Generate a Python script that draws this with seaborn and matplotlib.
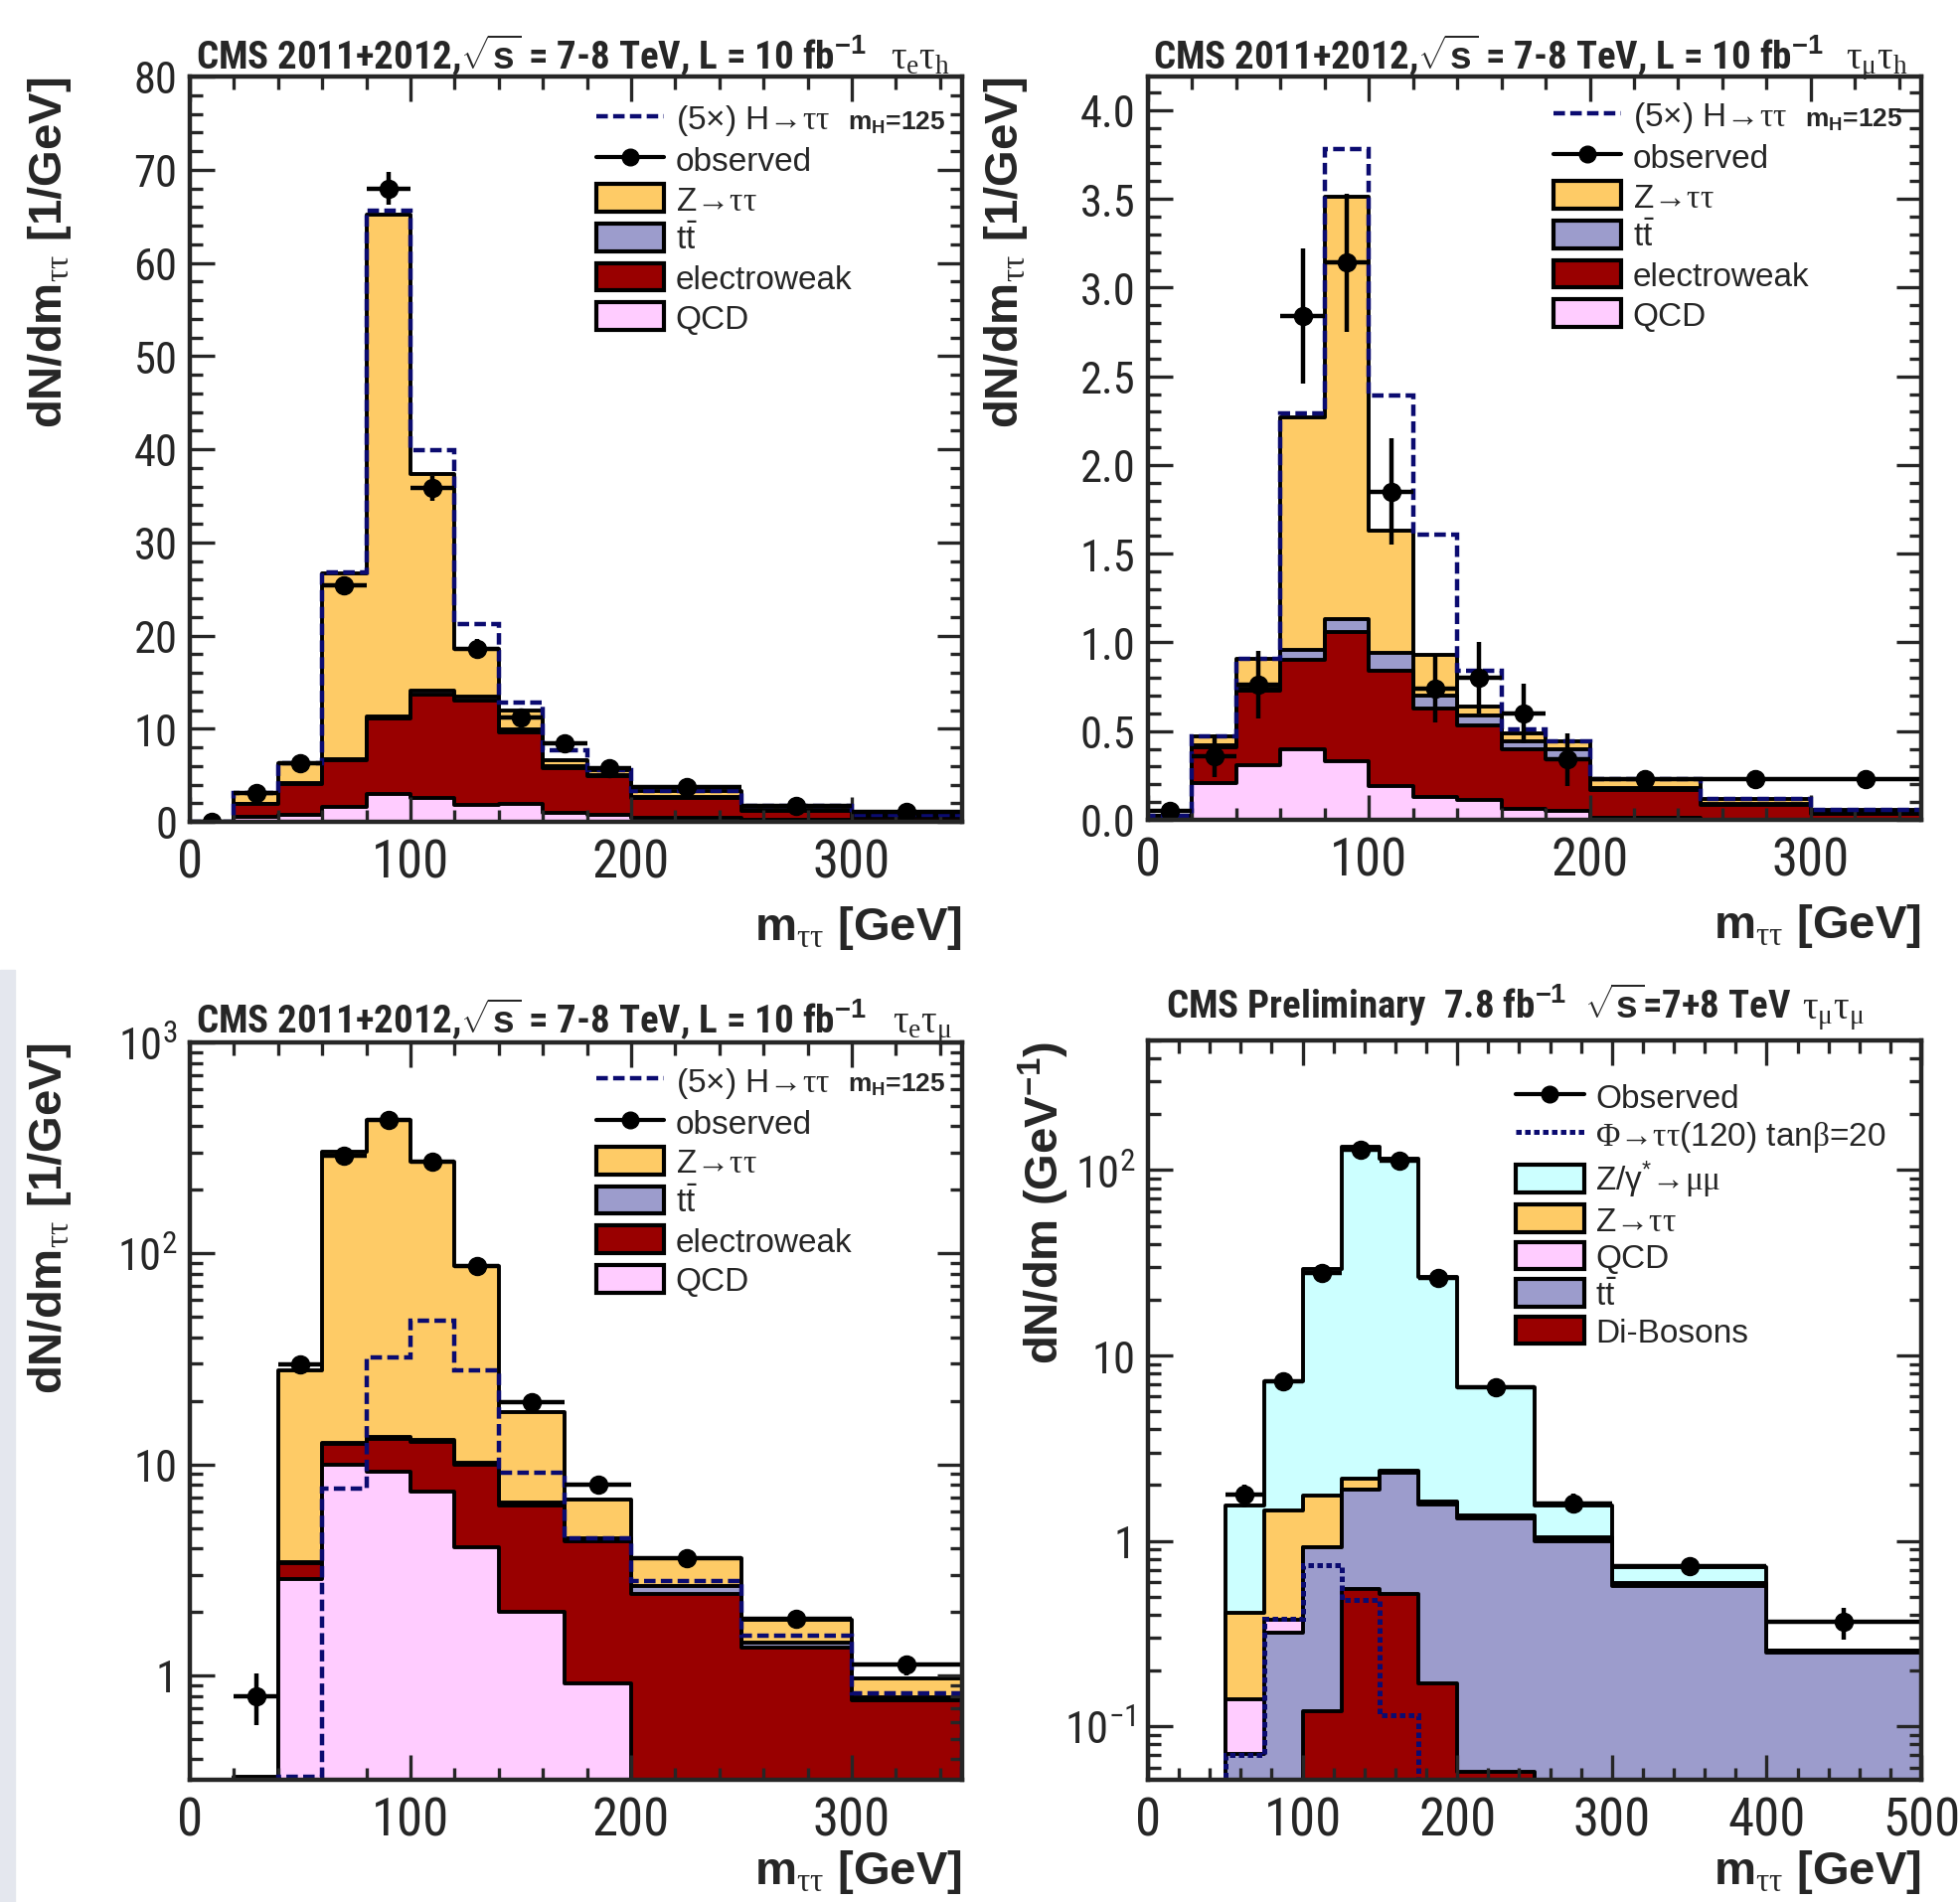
import numpy as np
import pandas as pd
import matplotlib
matplotlib.use("Agg")
import matplotlib.pyplot as plt
import seaborn as sns
from matplotlib import font_manager
from matplotlib.patches import Patch, Rectangle
from matplotlib.lines import Line2D
from matplotlib.ticker import (MultipleLocator, FixedLocator, FixedFormatter,
                               FormatStrFormatter, LogLocator, NullFormatter)

# ---------------- data: tau_e tau_h ----------------
edges_eh = [0, 20, 40, 60, 80, 100, 120, 140, 160, 180, 200, 250, 300, 350]
qcd_eh = [0, 0.5, 0.7, 1.6, 3.0, 2.6, 1.8, 1.9, 1.0, 0.8, 0.4, 0.2, 0.1]
ewk_eh = [0, 1.4, 3.4, 5.0, 8.1, 11.1, 11.2, 7.7, 4.75, 4.1, 2.2, 1.0, 0.45]
tt_eh = [0, 0.05, 0.1, 0.15, 0.25, 0.4, 0.4, 0.3, 0.2, 0.15, 0.1, 0.05, 0.03]
ztt_eh = [0, 1.15, 2.1, 19.95, 53.85, 23.2, 5.2, 2.1, 0.65, 0.45, 0.6, 0.45, 0.22]
higgs_eh = [0, 3.1, 6.3, 26.8, 65.6, 39.9, 21.2, 12.8, 7.7, 5.5, 3.3, 1.7, 0.8]
obs_x_eh = [10, 30, 50, 70, 90, 110, 130, 150, 170, 190, 225, 275, 325]
obs_xe_eh = [10, 10, 10, 10, 10, 10, 10, 10, 10, 10, 25, 25, 25]
obs_y_eh = [0, 3.1, 6.3, 25.4, 68.0, 35.8, 18.6, 11.2, 8.4, 5.75, 3.7, 1.75, 1.1]
obs_err_eh = [0.2, 0.4, 0.5, 1.0, 1.8, 1.3, 1.0, 0.7, 0.6, 0.5, 0.3, 0.2, 0.15]

# ---------------- data: tau_mu tau_h ----------------
edges_mh = [0, 20, 40, 60, 80, 100, 120, 140, 160, 180, 200, 250, 300, 350]
qcd_mh = [0.02, 0.21, 0.31, 0.40, 0.33, 0.19, 0.13, 0.11, 0.06, 0.05, 0.01, 0.0, 0.0]
ewk_mh = [0, 0.20, 0.42, 0.50, 0.73, 0.65, 0.50, 0.42, 0.34, 0.29, 0.16, 0.085, 0.035]
tt_mh = [0, 0.01, 0.01, 0.06, 0.07, 0.10, 0.07, 0.06, 0.04, 0.06, 0.01, 0.005, 0.005]
ztt_mh = [0, 0.05, 0.17, 1.31, 2.38, 0.69, 0.23, 0.05, 0.05, 0.04, 0.05, 0.025, 0.015]
higgs_mh = [0.02, 0.47, 0.91, 2.29, 3.78, 2.39, 1.61, 0.84, 0.51, 0.44, 0.23, 0.115, 0.055]
obs_x_mh = [10, 30, 50, 70, 90, 110, 130, 150, 170, 190, 225, 275, 325]
obs_xe_mh = [10, 10, 10, 10, 10, 10, 10, 10, 10, 10, 25, 25, 25]
obs_y_mh = [0.05, 0.36, 0.76, 2.84, 3.14, 1.85, 0.74, 0.80, 0.60, 0.34, 0.23, 0.23, 0.23]
obs_err_mh = [0.03, 0.12, 0.19, 0.38, 0.39, 0.30, 0.19, 0.20, 0.17, 0.15, 0.05, 0.05, 0.05]

# ---------------- data: tau_e tau_mu ----------------
edges_em = [0, 20, 40, 60, 80, 100, 120, 140, 170, 200, 250, 300, 350]
qcd_em = [0, 0, 2.87, 10.0, 9.2, 7.4, 4.07, 2.0, 0.92, 0, 0, 0]
ewk_em = [0, 0, 0.52, 2.5, 4.0, 5.4, 5.88, 4.4, 3.38, 2.43, 1.36, 0.76]
tt_em = [0, 0, 0.05, 0.2, 0.3, 0.3, 0.25, 0.2, 0.15, 0.21, 0.07, 0.03]
ztt_em = [0, 0.33, 24.46, 290.3, 414.5, 257.9, 76.8, 11.1, 2.35, 0.94, 0.41, 0.18]
higgs_em = [0, 0, 0.33, 7.7, 32, 47.8, 28, 9.1, 4.45, 2.8, 1.54, 0.82]
obs_x_em = [30, 50, 70, 90, 110, 130, 155, 185, 225, 275, 325]
obs_xe_em = [10, 10, 10, 10, 10, 10, 15, 15, 25, 25, 25]
obs_y_em = [0.8, 29.7, 290, 428, 271, 87, 19.7, 8.0, 3.6, 1.86, 1.12]
obs_err_em = [0.22, 1.2, 4, 5, 4, 2, 0.8, 0.5, 0.25, 0.15, 0.12]

# ---------------- data: tau_mu tau_mu ----------------
edges_mm = [50, 75, 100, 125, 150, 175, 200, 250, 300, 400, 500]
dib_mm = [0, 0, 0.12, 0.55, 0.52, 0.171, 0.057, 0, 0, 0]
tt_mm = [0.071, 0.32, 0.80, 1.33, 1.82, 1.40, 1.273, 1.0, 0.57, 0.25]
qcd_mm = [0.069, 0.056, 0.01, 0.02, 0.02, 0.03, 0.02, 0.02, 0.01, 0.002]
ztt_mm = [0.27, 1.084, 0.83, 0.26, 0.04, 0.02, 0.02, 0.02, 0.01, 0.003]
zmm_mm = [1.14, 5.84, 27.44, 130.84, 112.6, 24.98, 5.33, 0.51, 0.13, 0.002]
phi_mm = [0.07, 0.38, 0.74, 0.48, 0.115, 0, 0, 0, 0, 0]
obs_x_mm = [62.5, 87.5, 112.5, 137.5, 162.5, 187.5, 225, 275, 350, 450]
obs_xe_mm = [12.5, 12.5, 12.5, 12.5, 12.5, 12.5, 25, 25, 50, 50]
obs_y_mm = [1.77, 7.3, 27.9, 129, 112, 26.3, 6.7, 1.6, 0.73, 0.365]
obs_err_mm = [0.25, 0.4, 1.0, 4, 4, 1.0, 0.5, 0.2, 0.06, 0.07]

# ---------------- style ----------------
C_ZTT, C_TT, C_EWK, C_QCD, C_ZMM = '#FECB66', '#9C9CCC', '#990000', '#FFCCFF', '#CCFFFF'
NAVY = '#0b0b70'

# look for a condensed sans font (Arial Narrow look-alike) if one is installed
_fonts = font_manager.fontManager.ttflist
_names = {f.name for f in _fonts}
NARROW = None
for cand in ['Liberation Sans Narrow', 'Arial Narrow', 'Roboto Condensed',
             'DejaVu Sans Condensed', 'Open Sans Condensed', 'Noto Sans Condensed']:
    if cand in _names:
        NARROW = cand
        break
if NARROW is None:
    for f in _fonts:
        if ('Narrow' in f.name or 'Condensed' in f.name) and 'CJK' not in f.name:
            NARROW = f.name
            break
IS_NARROW = NARROW is not None
BASE = NARROW if IS_NARROW else 'Liberation Sans'

sns.set_style("ticks")
plt.rcParams['font.family'] = [BASE, 'Liberation Sans', 'DejaVu Sans']
plt.rcParams['mathtext.fontset'] = 'custom'
plt.rcParams['mathtext.rm'] = 'Liberation Sans'
plt.rcParams['mathtext.it'] = 'Liberation Sans:italic'
plt.rcParams['mathtext.bf'] = 'Liberation Sans:bold'
plt.rcParams['mathtext.sf'] = 'Liberation Serif'

XT_FS = 38 if IS_NARROW else 32
YT_FS = 32 if IS_NARROW else 27
TITLE_FS = 28 if IS_NARROW else 24
TITLE4_FS = 28 if IS_NARROW else 23.5
LAB_FS = 34
LEG_FS = 24
LEG_FAMILY = ['Liberation Sans', 'DejaVu Sans']
ARROW = '→'

fig = plt.figure(figsize=(19.72, 19.15), dpi=100)
fig.add_artist(Rectangle((0, 0), 15 / 1972, 0.49, transform=fig.transFigure,
                         color='#E4E7EE', zorder=-10))

ax1 = fig.add_axes([191 / 1972, 1 - 828 / 1915, 777 / 1972, 750 / 1915])
ax2 = fig.add_axes([1155 / 1972, 1 - 826 / 1915, 778 / 1972, 748 / 1915])
ax3 = fig.add_axes([191 / 1972, 1 - 1792 / 1915, 777 / 1972, 742 / 1915])
ax4 = fig.add_axes([1155 / 1972, 1 - 1792 / 1915, 778 / 1972, 744 / 1915])


def draw_stack(ax, edges, comps, colors):
    e = np.asarray(edges, float)
    centers = 0.5 * (e[:-1] + e[1:])
    cums = np.cumsum(np.array(comps, float), axis=0)
    for cum, col in reversed(list(zip(cums, colors))):
        df = pd.DataFrame({'m': centers, 'w': cum})
        sns.histplot(data=df, x='m', weights='w', bins=list(edges), element="step",
                     fill=True, color=col, alpha=1, edgecolor="black", linewidth=2.8, ax=ax)


def draw_obs(ax, x, xe, y, ye):
    ax.errorbar(x, y, xerr=xe, yerr=ye, fmt='o', color='black', ms=13,
                elinewidth=3.2, capsize=0, zorder=6)


def style_axis(ax):
    for s in ax.spines.values():
        s.set_linewidth(3.2)
        s.set_visible(True)
        s.set_zorder(10)
    ax.tick_params(which='both', direction='in', top=True, right=True, width=2.4)
    ax.tick_params(which='major', length=18)
    ax.tick_params(which='minor', length=9)
    ax.tick_params(axis='x', which='major', labelsize=XT_FS, pad=11)
    ax.tick_params(axis='y', which='major', labelsize=YT_FS, pad=9)
    ax.set_xlabel('')
    ax.set_ylabel('')
    ax.set_axisbelow(False)


def add_labels(ax, ylab, ylx, title, title_x, title_y, decay, decay_x, xly=-0.142,
               tfs=None):
    ax.text(ylx, 1.0, ylab, transform=ax.transAxes, rotation=90, ha='center', va='top',
            fontsize=LAB_FS, fontweight='bold', family='Liberation Sans')
    ax.text(1.0, xly, r'm$_{\mathsf{\tau\tau}}$ [GeV]', transform=ax.transAxes,
            ha='right', va='center', fontsize=LAB_FS, fontweight='bold',
            family='Liberation Sans')
    ax.text(title_x, title_y, title, transform=ax.transAxes, ha='left', va='baseline',
            fontsize=tfs or TITLE_FS, fontweight='bold')
    ax.text(decay_x, title_y, decay, transform=ax.transAxes, ha='right', va='baseline',
            fontsize=28)


def add_legend(ax, handles, labels, x, y, spacing=0.22):
    ax.legend(handles, labels, loc='upper left', bbox_to_anchor=(x, y),
              bbox_transform=ax.transAxes, frameon=False,
              prop={'family': LEG_FAMILY, 'size': LEG_FS},
              handlelength=2.05, handleheight=0.9, handletextpad=0.35,
              labelspacing=spacing, borderpad=0, borderaxespad=0)


def patch(c):
    return Patch(facecolor=c, edgecolor='black', linewidth=3)


h_obs = Line2D([0], [0], color='black', lw=3, marker='o', ms=12)
h_dash = Line2D([0], [0], color=NAVY, lw=3.2, linestyle=(0, (2.6, 1.2)))
h_dot = Line2D([0], [0], color=NAVY, lw=3.6, linestyle=(0, (1.1, 0.7)))

std_labels = ['(5×) H' + ARROW + '$\\mathsf{\\tau\\tau}$', 'observed',
              'Z' + ARROW + '$\\mathsf{\\tau\\tau}$',
              r'$\mathrm{t\bar{t}}$', 'electroweak', 'QCD']
std_handles = [h_dash, h_obs, patch(C_ZTT), patch(C_TT), patch(C_EWK), patch(C_QCD)]
TITLE = r'CMS 2011+2012,$\sqrt{\mathbf{s}}$ = 7-8 TeV, L = 10 fb$^{\mathbf{-1}}$'
YLAB = r'dN/dm$_{\mathsf{\tau\tau}}$ [1/GeV]'
DASH = (0, (2.6, 1.2))

# ---------- panel 1 ----------
ax = ax1
draw_stack(ax, edges_eh, [qcd_eh, ewk_eh, tt_eh, ztt_eh], [C_QCD, C_EWK, C_TT, C_ZTT])
ax.stairs(higgs_eh, edges_eh, baseline=0, color=NAVY, lw=3.2, linestyle=DASH, zorder=5)
draw_obs(ax, obs_x_eh, obs_xe_eh, obs_y_eh, obs_err_eh)
ax.set_xlim(0, 350)
ax.set_ylim(0, 80)
ax.xaxis.set_major_locator(MultipleLocator(100))
ax.xaxis.set_minor_locator(MultipleLocator(20))
ax.yaxis.set_major_locator(MultipleLocator(10))
ax.yaxis.set_minor_locator(MultipleLocator(2))
style_axis(ax)
add_labels(ax, YLAB, -0.181, TITLE, 0.008, 1.011, r'$\mathsf{\tau_{e}\tau_{h}}$', 0.985)
add_legend(ax, std_handles, std_labels, 0.526, 0.965)
ax.text(0.979, 0.939, r'$\mathbf{m_{H}}$=125', transform=ax.transAxes, ha='right',
        va='center', fontsize=19, fontweight='bold', family='Liberation Sans')

# ---------- panel 2 ----------
ax = ax2
draw_stack(ax, edges_mh, [qcd_mh, ewk_mh, tt_mh, ztt_mh], [C_QCD, C_EWK, C_TT, C_ZTT])
ax.stairs(higgs_mh, edges_mh, baseline=0, color=NAVY, lw=3.2, linestyle=DASH, zorder=5)
draw_obs(ax, obs_x_mh, obs_xe_mh, obs_y_mh, obs_err_mh)
ax.set_xlim(0, 350)
ax.set_ylim(0, 4.19)
ax.xaxis.set_major_locator(MultipleLocator(100))
ax.xaxis.set_minor_locator(MultipleLocator(20))
ax.yaxis.set_major_locator(MultipleLocator(0.5))
ax.yaxis.set_minor_locator(MultipleLocator(0.1))
ax.yaxis.set_major_formatter(FormatStrFormatter('%.1f'))
style_axis(ax)
add_labels(ax, YLAB, -0.184, TITLE, 0.006, 1.011, r'$\mathsf{\tau_{\mu}\tau_{h}}$', 0.983)
add_legend(ax, std_handles, std_labels, 0.524, 0.969)
ax.text(0.976, 0.943, r'$\mathbf{m_{H}}$=125', transform=ax.transAxes, ha='right',
        va='center', fontsize=19, fontweight='bold', family='Liberation Sans')

# ---------- panel 3 ----------
ax = ax3
draw_stack(ax, edges_em, [qcd_em, ewk_em, tt_em, ztt_em], [C_QCD, C_EWK, C_TT, C_ZTT])
ax.stairs(higgs_em, edges_em, baseline=0, color=NAVY, lw=3.2, linestyle=DASH, zorder=5)
draw_obs(ax, obs_x_em, obs_xe_em, obs_y_em, obs_err_em)
ax.set_yscale('log')
ax.set_xlim(0, 350)
ax.set_ylim(0.32, 1000)
ax.xaxis.set_major_locator(MultipleLocator(100))
ax.xaxis.set_minor_locator(MultipleLocator(20))
ax.yaxis.set_major_locator(FixedLocator([1, 10, 100, 1000]))
ax.yaxis.set_major_formatter(FixedFormatter(['1', '10', r'$\mathdefault{10^{2}}$',
                                             r'$\mathdefault{10^{3}}$']))
ax.yaxis.set_minor_locator(LogLocator(base=10, subs=np.arange(2, 10), numticks=20))
ax.yaxis.set_minor_formatter(NullFormatter())
style_axis(ax)
add_labels(ax, YLAB, -0.181, TITLE, 0.008, 1.015, r'$\mathsf{\tau_{e}\tau_{\mu}}$', 0.988,
           xly=-0.124)
add_legend(ax, std_handles, std_labels, 0.526, 0.969)
ax.text(0.979, 0.944, r'$\mathbf{m_{H}}$=125', transform=ax.transAxes, ha='right',
        va='center', fontsize=19, fontweight='bold', family='Liberation Sans')

# ---------- panel 4 ----------
ax = ax4
draw_stack(ax, edges_mm, [dib_mm, tt_mm, qcd_mm, ztt_mm, zmm_mm],
           [C_EWK, C_TT, C_QCD, C_ZTT, C_ZMM])
ax.stairs(phi_mm, edges_mm, baseline=0, color=NAVY, lw=3.6, linestyle=(0, (1.1, 0.7)), zorder=5)
draw_obs(ax, obs_x_mm, obs_xe_mm, obs_y_mm, obs_err_mm)
ax.set_yscale('log')
ax.set_xlim(0, 500)
ax.set_ylim(0.0515, 500)
ax.xaxis.set_major_locator(MultipleLocator(100))
ax.xaxis.set_minor_locator(MultipleLocator(20))
ax.yaxis.set_major_locator(FixedLocator([0.1, 1, 10, 100]))
ax.yaxis.set_major_formatter(FixedFormatter([r'$\mathdefault{10^{-1}}$', '1', '10',
                                             r'$\mathdefault{10^{2}}$']))
ax.yaxis.set_minor_locator(LogLocator(base=10, subs=np.arange(2, 10), numticks=20))
ax.yaxis.set_minor_formatter(NullFormatter())
style_axis(ax)
add_labels(ax, r'dN/dm (GeV$^{\mathbf{-1}}$)', -0.135,
           r'CMS Preliminary  7.8 fb$^{\mathbf{-1}}$  $\sqrt{\mathbf{s}}$=7+8 TeV',
           0.023, 1.031, r'$\mathsf{\tau_{\mu}\tau_{\mu}}$', 0.927, xly=-0.124,
           tfs=TITLE4_FS)
mm_labels = ['Observed', r'$\mathsf{\Phi}$' + ARROW + r'$\mathsf{\tau\tau}$(120) tan$\mathsf{\beta}$=20',
             r'Z/$\mathrm{\gamma}^{*}$' + ARROW + r'$\mathsf{\mu\mu}$',
             'Z' + ARROW + '$\\mathsf{\\tau\\tau}$', 'QCD',
             r'$\mathrm{t\bar{t}}$', 'Di-Bosons']
mm_handles = [h_obs, h_dot, patch(C_ZMM), patch(C_ZTT), patch(C_QCD), patch(C_TT), patch(C_EWK)]
add_legend(ax, mm_handles, mm_labels, 0.476, 0.944, spacing=0.15)

fig.savefig('out.png', dpi=100)
